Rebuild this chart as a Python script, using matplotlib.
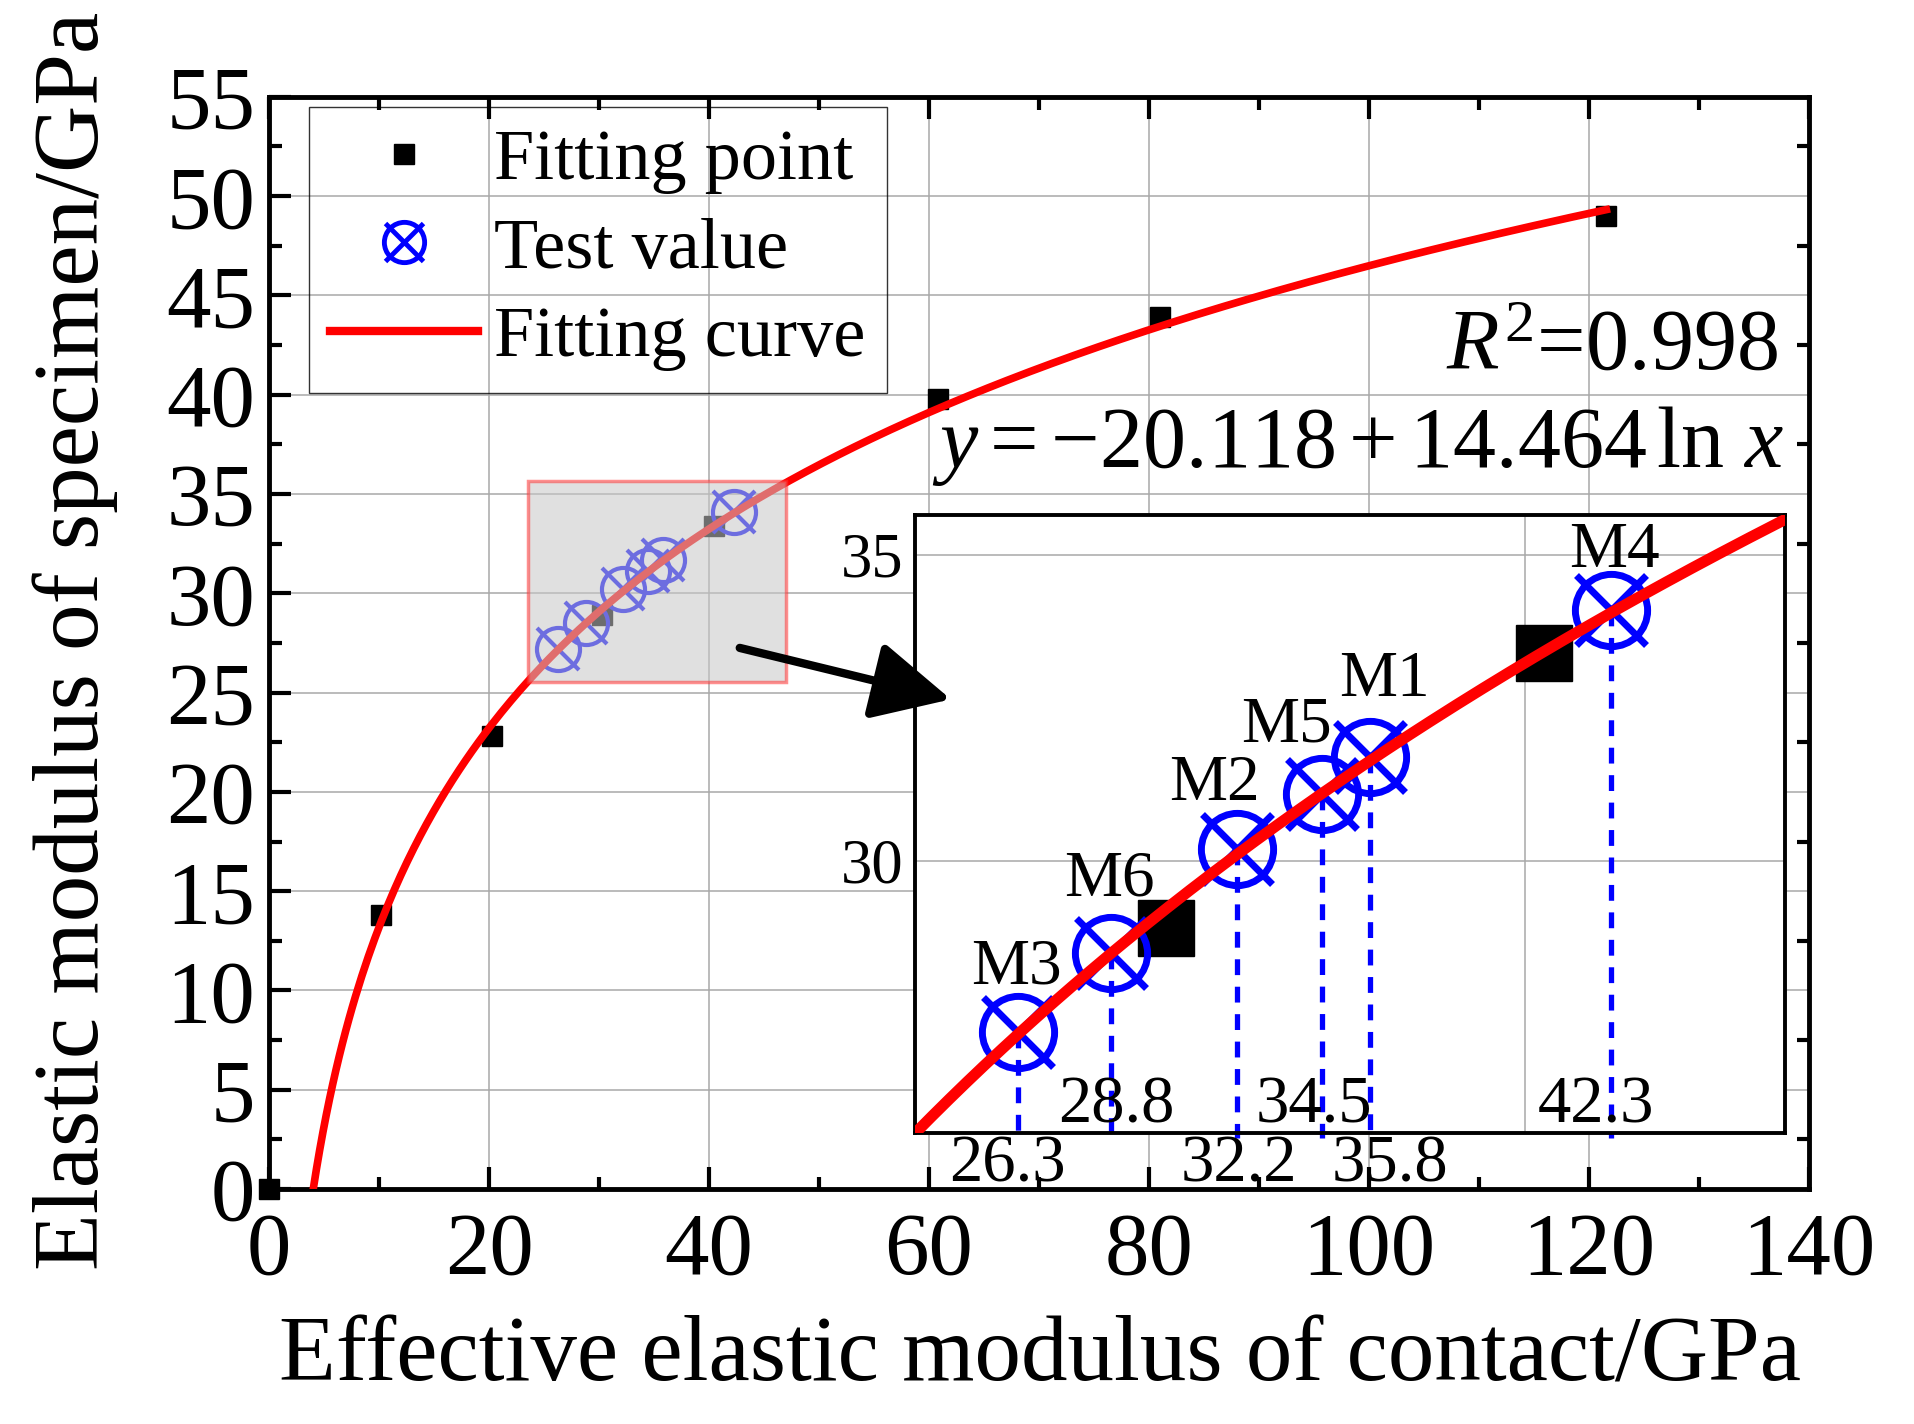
import numpy as np
import matplotlib
matplotlib.use("Agg")
import matplotlib.pyplot as plt
from matplotlib.lines import Line2D
from matplotlib.patches import Rectangle, FancyArrowPatch
from matplotlib.legend_handler import HandlerTuple
from matplotlib.ticker import MultipleLocator

plt.rcParams['font.family'] = ['Liberation Serif', 'DejaVu Serif']
plt.rcParams['mathtext.fontset'] = 'custom'
plt.rcParams['mathtext.rm'] = 'Liberation Serif'
plt.rcParams['mathtext.it'] = 'Liberation Serif:italic'

# data
fit_x = [0, 10.2, 20.3, 30.3, 40.5, 60.8, 81.0, 121.6]
fit_y = [0, 13.8, 22.8, 28.9, 33.4, 39.8, 43.9, 49.0]

test_x = [26.3, 28.8, 32.2, 34.5, 35.8, 42.3]
test_y = [27.2, 28.5, 30.2, 31.1, 31.7, 34.1]
test_names = ['M3', 'M6', 'M2', 'M5', 'M1', 'M4']

coef_a = -20.118
coef_b = 14.464
r_squared = 0.998

# zoom window (data coords)
zx0, zx1 = 23.5, 47.0
zy0, zy1 = 25.55, 35.65

blue = '#0000ff'
red = '#ff0000'

fig = plt.figure(figsize=(19.15, 14.24), dpi=100)
ax = fig.add_axes([0.1405, 0.165, 0.804, 0.767])

# fitting curve
xc = np.linspace(np.exp(-coef_a / coef_b), fit_x[-1], 400)
yc = coef_a + coef_b * np.log(xc)

ax.plot(fit_x, fit_y, 's', color='k', ms=15, zorder=3, clip_on=False)
ax.plot(test_x, test_y, 'o', mfc='none', mec=blue, mew=3, ms=31, zorder=3)
ax.plot(test_x, test_y, 'x', color=blue, mew=3, ms=30, zorder=3)
ax.plot(xc, yc, '-', color=red, lw=5.5, zorder=4)

ax.add_patch(Rectangle((zx0, zy0), zx1 - zx0, zy1 - zy0, facecolor=(0.78, 0.78, 0.78),
                       edgecolor=(1, 0.2, 0.2), alpha=0.55, lw=2.5, zorder=5))

ax.set_xlim(0, 140)
ax.set_ylim(0, 55)
ax.xaxis.set_major_locator(MultipleLocator(20))
ax.xaxis.set_minor_locator(MultipleLocator(10))
ax.yaxis.set_major_locator(MultipleLocator(5))
ax.yaxis.set_minor_locator(MultipleLocator(2.5))
ax.grid(True, which='major', color='#a8a8a8', lw=1.1)
ax.set_axisbelow(True)
for s in ax.spines.values():
    s.set_linewidth(3.5)
ax.tick_params(which='both', direction='in', top=True, right=True, width=3,
               labelsize=64)
ax.tick_params(which='major', length=16, pad=10, right=False)
ax.tick_params(which='minor', length=9)
ax.tick_params(axis='x', which='major', pad=16)

ax.set_xlabel('Effective elastic modulus of contact/GPa', fontsize=67)
ax.set_ylabel('Elastic modulus of specimen/GPa', fontsize=67)
ax.xaxis.set_label_coords(0.501, -0.116)
ax.yaxis.set_label_coords(-0.098, 0.502)

ax.text(137.2, 42.3, r'$R^2$=0.998', fontsize=62, ha='right', va='center', zorder=6)
ax.text(137.8, 37.4, r'$y=-20.118+14.464\,\ln\,x$', fontsize=62, ha='right',
        va='center', zorder=6)

# legend
h_fit = Line2D([], [], ls='none', marker='s', color='k', ms=15)
h_c = Line2D([], [], ls='none', marker='o', mfc='none', mec=blue, mew=3.5, ms=29)
h_x = Line2D([], [], ls='none', marker='x', color=blue, mew=3.5, ms=28)
h_line = Line2D([], [], color=red, lw=6)
leg = ax.legend([h_fit, (h_c, h_x), h_line], ['Fitting point', 'Test value', 'Fitting curve'],
                handler_map={tuple: HandlerTuple(ndivide=1, pad=0)},
                loc='upper left', bbox_to_anchor=(3.6, 54.5), bbox_transform=ax.transData,
                borderaxespad=0, fontsize=52, handlelength=2.05, handletextpad=0.22,
                labelspacing=0.32, borderpad=0.3, fancybox=False)
leg.get_frame().set_facecolor('none')
leg.get_frame().set_edgecolor('k')
leg.get_frame().set_linewidth(1.0)

# inset
ins = ax.inset_axes([58.7, 2.8, 137.8 - 58.7, 33.95 - 2.8], transform=ax.transData)
ins.set_zorder(10)
xi = np.linspace(zx0, zx1, 200)
ins.plot(fit_x, fit_y, 's', color='k', ms=40, zorder=3)
ins.plot(test_x, test_y, 'o', mfc='none', mec=blue, mew=5, ms=52, zorder=3)
ins.plot(test_x, test_y, 'x', color=blue, mew=5, ms=50, zorder=3)
ins.plot(xi, coef_a + coef_b * np.log(xi), '-', color=red, lw=8, zorder=4)
for xv, yv in zip(test_x, test_y):
    ins.plot([xv, xv], [yv, zy0 - 0.08], ls=(0, (3, 2.2)), color=blue, lw=3.8,
             zorder=2, clip_on=False)

label_dx = [-0.05, -0.05, -0.6, -0.95, 0.4, 0.1]
label_dy = [1.05, 1.2, 1.05, 1.1, 1.25, 0.95]
for xv, yv, nm, dx, dy in zip(test_x, test_y, test_names, label_dx, label_dy):
    ins.text(xv + dx, yv + dy, nm, fontsize=47, ha='center', va='center', zorder=6)

value_dx = [-0.3, 0.15, 0.05, -0.2, 0.55, -0.4]
value_y = [25.04, 26.0, 25.04, 26.0, 25.04, 26.0]
for xv, nm_y, dx in zip(test_x, value_y, value_dx):
    ins.text(xv + dx, nm_y, f'{xv:.1f}', fontsize=48, ha='center', va='center',
             zorder=6, clip_on=False)

ins.set_xlim(zx0, zx1)
ins.set_ylim(zy0, zy1)
ins.xaxis.set_major_locator(MultipleLocator(20))
ins.yaxis.set_major_locator(MultipleLocator(5))
ins.grid(True, color='#a8a8a8', lw=1.1)
ins.set_axisbelow(True)
ins.tick_params(length=0, labelbottom=False, labelsize=45, pad=8)
for s in ins.spines.values():
    s.set_linewidth(2.8)

# arrow
fig.add_artist(FancyArrowPatch((42.8, 27.25), (62.0, 24.66), transform=ax.transData,
                               arrowstyle='-|>,head_length=2.4,head_width=1.2',
                               mutation_scale=20, lw=6, color='k',
                               shrinkA=0, shrinkB=0, zorder=20))

fig.savefig('out.png', dpi=100)
